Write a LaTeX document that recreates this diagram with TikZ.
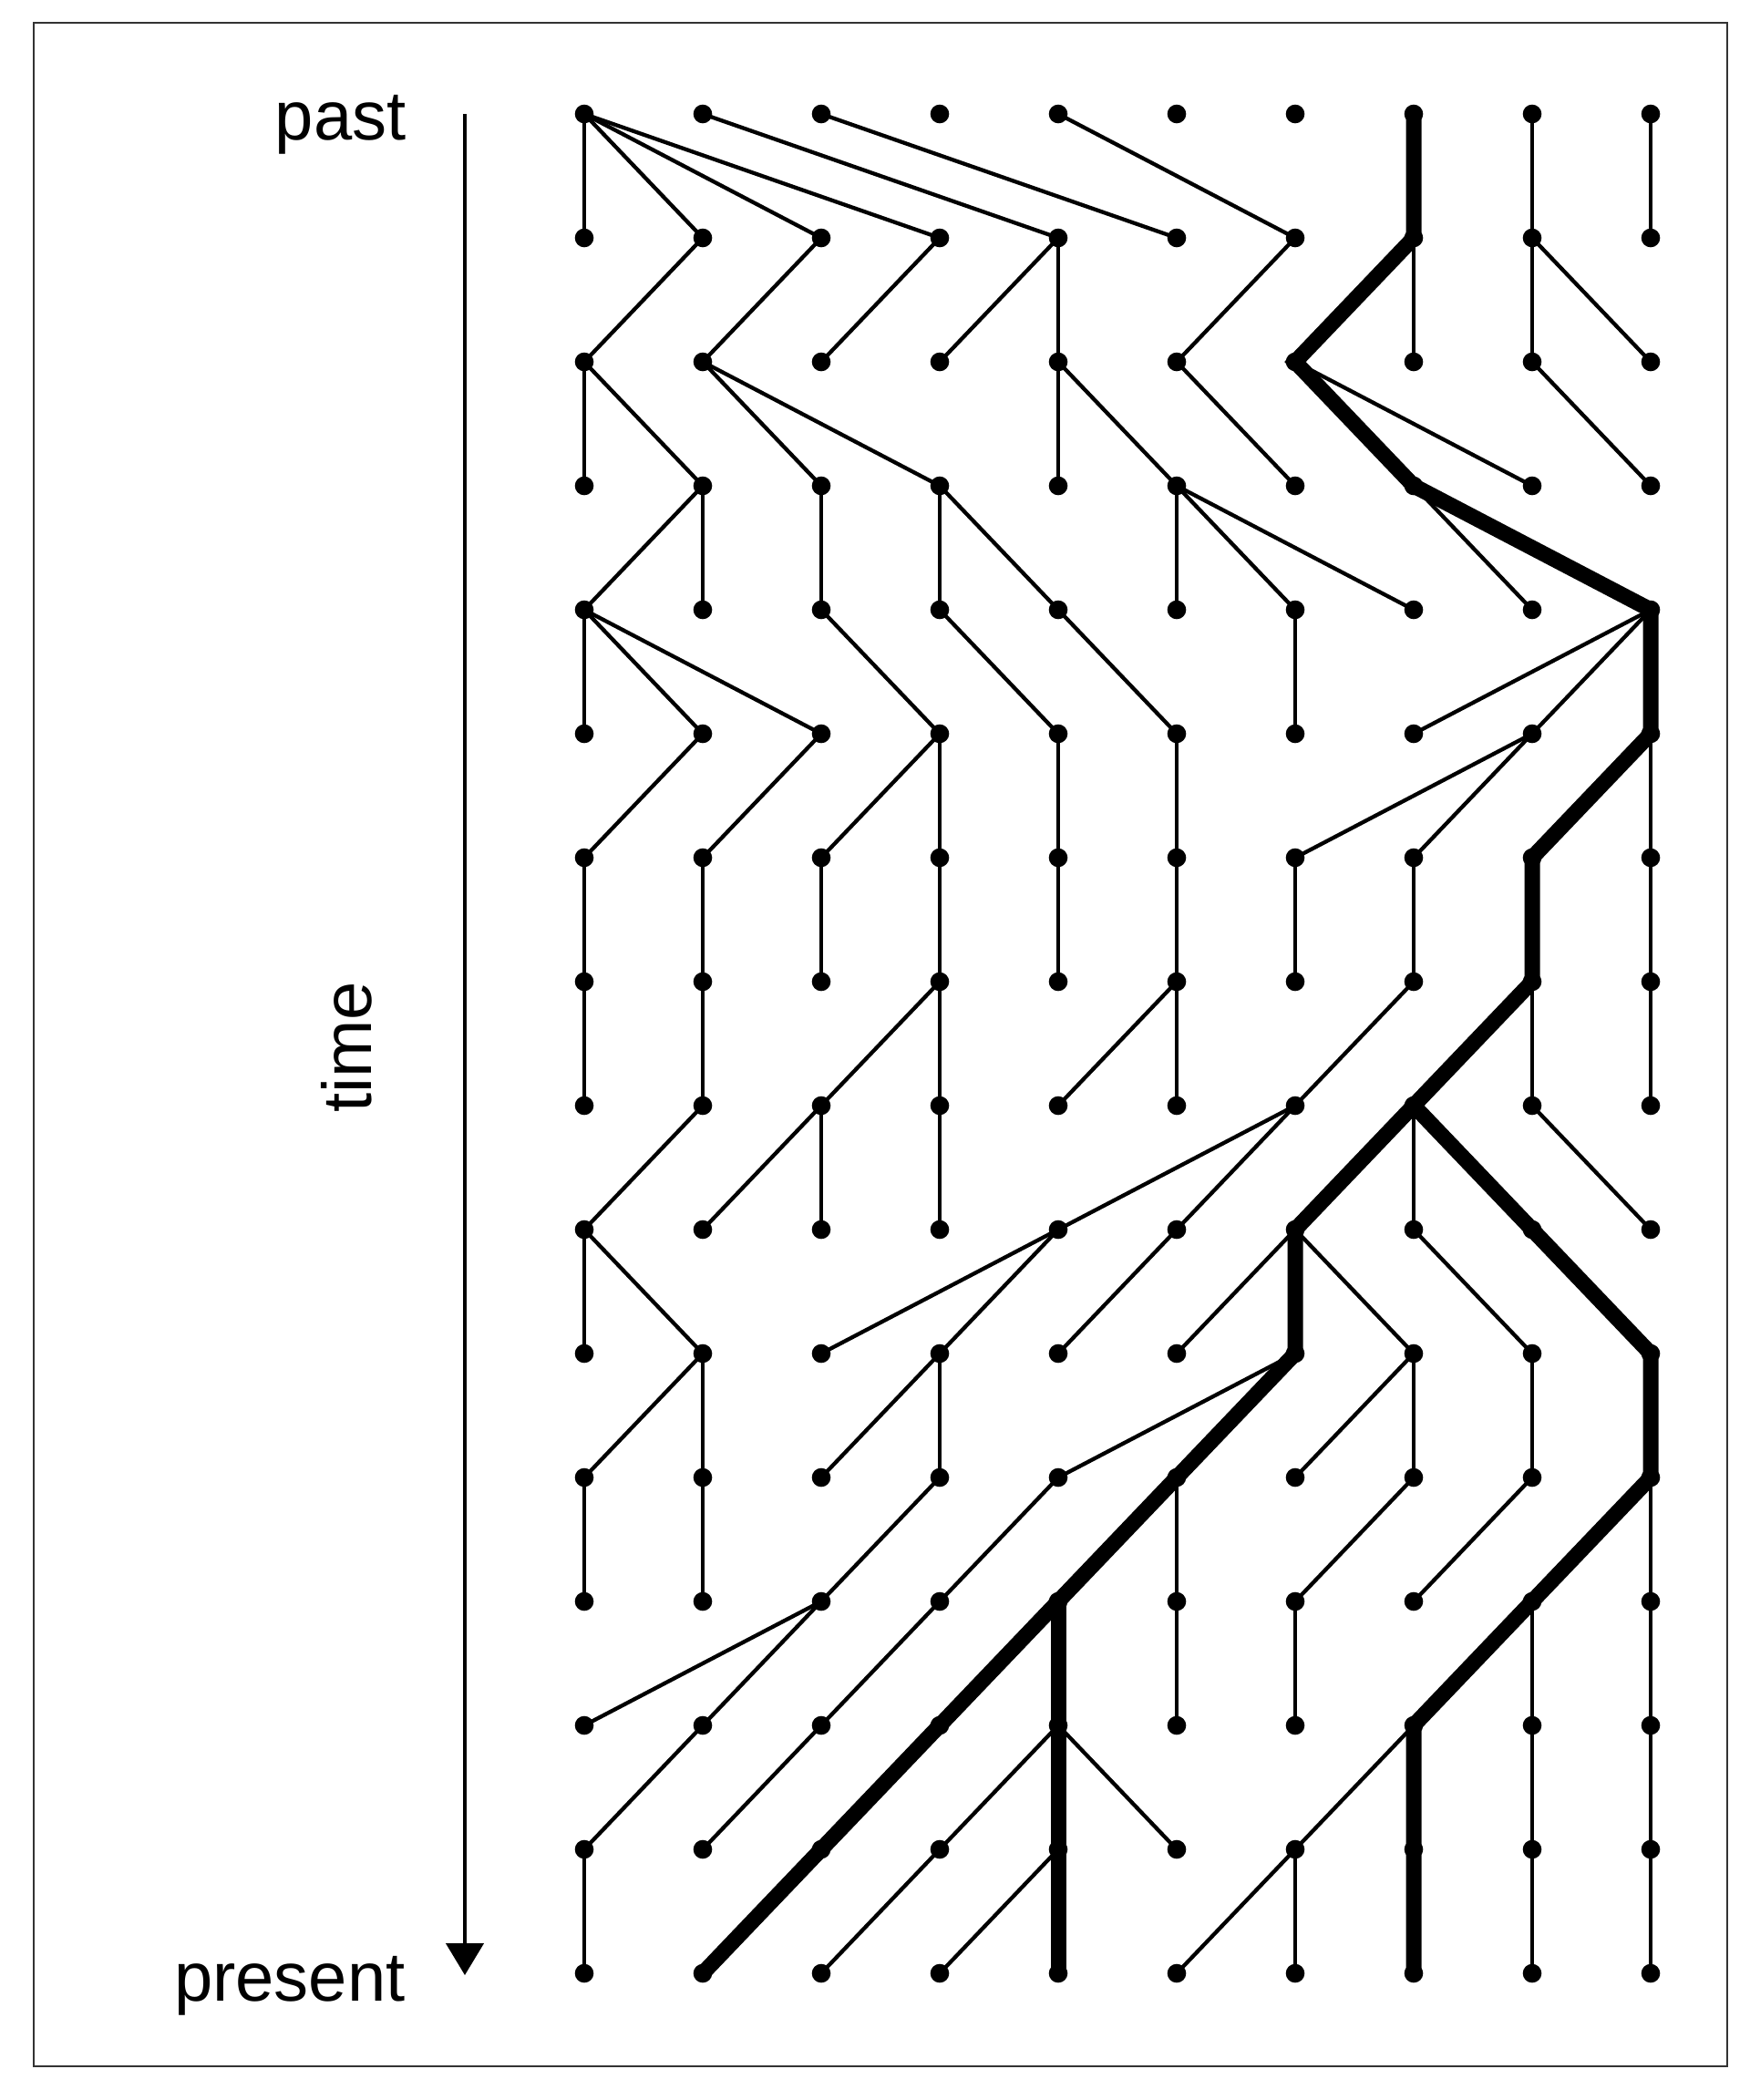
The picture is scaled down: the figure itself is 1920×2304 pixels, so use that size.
\documentclass[tikz,border=0pt]{standalone}
\usepackage{fontspec}
\setmainfont{Liberation Sans}
\usetikzlibrary{arrows.meta}
\pgfdeclarelayer{background}
\pgfsetlayers{background,main}
\tikzset{
  dot/.style={circle, fill=black, inner sep=0pt, minimum size=10.3pt},
  thinline/.style={line width=2.15pt, black},
  thickline/.style={line width=8.5pt, black},
  lbl/.style={font=\fontsize{38}{46}\selectfont, inner sep=0pt},
}
\begin{document}
\begin{tikzpicture}[x=0.5pt, y=-0.5pt]
\useasboundingbox (0,0) rectangle (1920,2304);
\draw[black!80, line width=1pt] (37,25) rectangle (1895,2267);
% dots
\foreach \r in {0,...,15}{
  \foreach \c in {0,...,9}{
    \node[dot] (n\r-\c) at ({641+130*\c},{125+136*\r}) {};
  }
}
\begin{pgfonlayer}{background}
\foreach \r/\ps in {
  1/{0,0,0,0,1,2,4,7,8,9},
  2/{1,2,3,4,4,6,7,7,8,8},
  3/{0,0,1,1,4,4,5,6,6,8},
  4/{1,1,2,3,3,5,5,5,7,7},
  5/{0,0,0,2,3,4,6,9,9,9},
  6/{1,2,3,3,4,5,8,8,9,9},
  7/{0,1,2,3,4,5,6,7,8,9},
  8/{0,1,3,3,5,5,7,8,8,9},
  9/{1,2,2,3,6,6,7,7,7,8},
  10/{0,0,4,4,5,6,6,6,7,8},
  11/{1,1,3,3,6,6,7,7,8,9},
  12/{0,1,3,4,5,5,7,8,9,9},
  13/{2,2,3,4,4,5,6,8,8,9},
  14/{1,2,3,4,4,4,7,7,8,9},
  15/{0,2,3,4,4,6,6,7,8,9}}{
  \pgfmathtruncatemacro\pr{\r-1}
  \foreach \p [count=\ci from 0] in \ps {
    \draw[thinline] (n\pr-\p.center) -- (n\r-\ci.center);
  }
}
\draw[thickline] (n0-7.center) -- (n1-7.center) -- (n2-6.center) -- (n3-7.center)
  -- (n4-9.center) -- (n5-9.center) -- (n6-8.center) -- (n7-8.center)
  -- (n8-7.center) -- (n9-6.center) -- (n10-6.center) -- (n11-5.center)
  -- (n12-4.center) -- (n13-3.center) -- (n14-2.center) -- (n15-1.center);
\draw[thickline] (n12-4.center) -- (n13-4.center) -- (n14-4.center) -- (n15-4.center);
\draw[thickline] (n8-7.center) -- (n9-8.center) -- (n10-9.center) -- (n11-9.center)
  -- (n12-8.center) -- (n13-7.center) -- (n14-7.center) -- (n15-7.center);
\end{pgfonlayer}
% time axis
\coordinate (tstart) at (510,125);
\coordinate (tend) at (510,2167);
\draw[line width=2.2pt, -{Triangle[length=17.5pt, width=20.5pt]}] (tstart) -- (tend);
\node[lbl, anchor=base east] (past) at (446,153) {past};
\node[lbl, anchor=base east] (present) at (445,2195) {present};
\node[lbl, rotate=90, anchor=base] (time) at (407,1149) {time};
\end{tikzpicture}
\end{document}
